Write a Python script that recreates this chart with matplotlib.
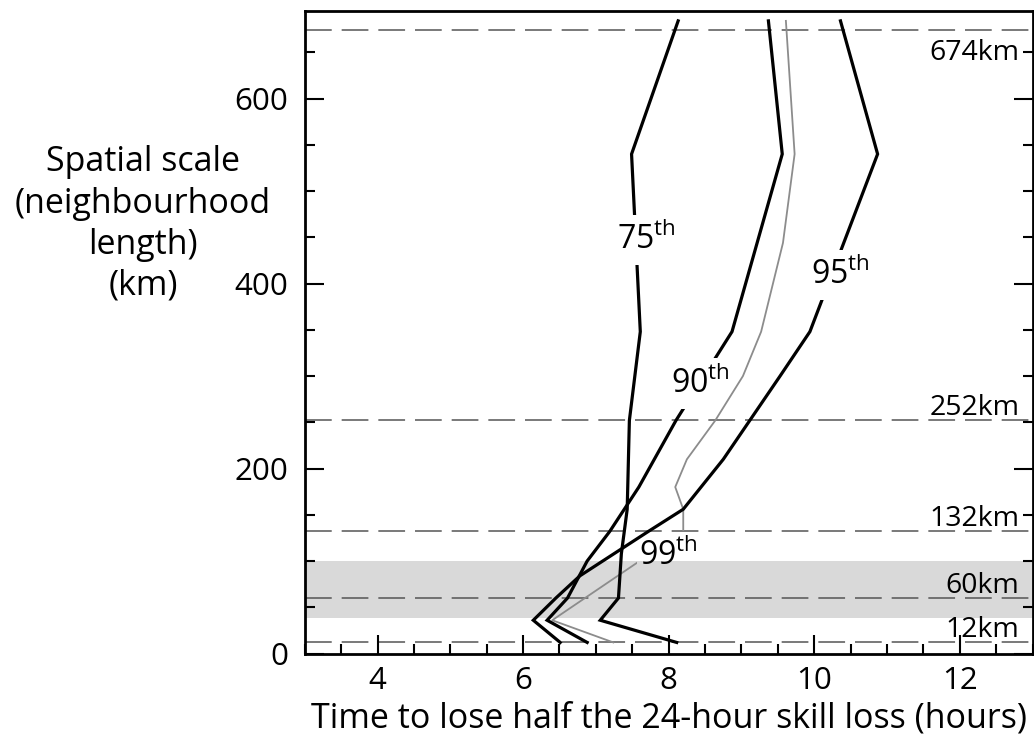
import matplotlib
matplotlib.use("Agg")
import matplotlib.pyplot as plt
from matplotlib.ticker import MultipleLocator
from matplotlib.path import Path

plt.rcParams['font.family'] = ['Open Sans', 'DejaVu Sans']
plt.rcParams['mathtext.fontset'] = 'custom'
plt.rcParams['mathtext.rm'] = 'Open Sans'
plt.rcParams['mathtext.it'] = 'Open Sans:italic'
plt.rcParams['mathtext.bf'] = 'Open Sans:bold'

# ---- data ----
scale_75 = [12, 36, 60, 108, 156, 252, 348, 540, 684]
hours_75 = [8.11, 7.06, 7.31, 7.35, 7.43, 7.46, 7.61, 7.49, 8.13]

scale_90 = [12, 36, 60, 100, 132, 180, 252, 348, 540, 684]
hours_90 = [6.88, 6.33, 6.61, 6.88, 7.19, 7.59, 8.10, 8.87, 9.56, 9.37]

scale_95 = [12, 36, 60, 84, 132, 156, 210, 300, 348, 540, 684]
hours_95 = [6.51, 6.14, 6.45, 6.78, 7.72, 8.20, 8.75, 9.53, 9.94, 10.87, 10.36]

scale_99 = [12, 36, 132, 156, 180, 210, 252, 300, 348, 444, 540, 684]
hours_99 = [7.24, 6.40, 8.20, 8.20, 8.09, 8.25, 8.64, 9.02, 9.27, 9.57, 9.73, 9.61]

ref_scales = [674, 252, 132, 60, 12]
ref_labels = ["674km", "252km", "132km", "60km", "12km"]
band = (38, 100)

curve_labels = ["75$^{\\mathrm{th}}$", "90$^{\\mathrm{th}}$", "95$^{\\mathrm{th}}$", "99$^{\\mathrm{th}}$"]
curve_label_pos = [(7.70, 447), (8.43, 292), (10.36, 409), (7.99, 105)]

ylabel_lines = ["Spatial scale", "(neighbourhood", "length)", "(km)"]
xlabel_text = "Time to lose half the 24-hour skill loss (hours)"

xticks = [4, 6, 8, 10, 12]
yticks = [0, 200, 400, 600]

# ---- figure ----
fig = plt.figure(figsize=(10.34, 7.43), dpi=100)
ax = fig.add_axes([0.2947, 0.1204, 0.7040, 0.8652])

ax.set_xlim(3, 13)
ax.set_ylim(0, 695)

ax.axhspan(band[0], band[1], color='#d9d9d9', lw=0, zorder=0)

for s in ref_scales:
    ax.axhline(s, color='#555555', lw=1.1, ls=(0, (17.5, 6.5)), zorder=1)

# curves in the same order as curve_labels: 75th, 90th, 95th, 99th
curves = []
for h, s in [(hours_75, scale_75), (hours_90, scale_90), (hours_95, scale_95)]:
    curves += ax.plot(h, s, color='black', lw=2.3, zorder=3, solid_joinstyle='miter')
curves += ax.plot(hours_99, scale_99, color='#8c8c8c', lw=1.3, zorder=2)

label_texts = []
for lab, (x, y) in zip(curve_labels, curve_label_pos):
    label_texts.append(ax.text(x, y, lab, fontsize=23, ha='center', va='center', zorder=5))

for s, lab in zip(ref_scales, ref_labels):
    if s > 600:
        ax.text(12.82, s - 32.5, lab, fontsize=20.5, ha='right', va='baseline', zorder=4)
    else:
        ax.text(12.82, s + 5.5, lab, fontsize=20.5, ha='right', va='baseline', zorder=4)

ax.xaxis.set_major_locator(MultipleLocator(2))
ax.xaxis.set_minor_locator(MultipleLocator(0.5))
ax.set_xticks(xticks)
ax.yaxis.set_major_locator(MultipleLocator(200))
ax.yaxis.set_minor_locator(MultipleLocator(50))
ax.set_yticks(yticks)

ax.tick_params(which='both', direction='in', top=False, right=True, bottom=True, left=True,
               width=1.5, color='black')
ax.tick_params(which='major', length=14, labelsize=22.5, pad=12)
ax.tick_params(which='minor', length=7)
ax.tick_params(axis='x', which='major', pad=9)

for sp in ax.spines.values():
    sp.set_linewidth(2.0)

ax.set_xlabel(xlabel_text, fontsize=24.5, labelpad=4)

# y-axis title: four centred lines to the left of the axis
baselines_px = [171, 213, 254, 295]
for txt, by in zip(ylabel_lines, baselines_px):
    fig.text(143 / 1034, 1 - by / 743, txt, fontsize=24.5, ha='center', va='baseline')

# cut a gap in each curve where its own label sits (no white box)
fig.canvas.draw()
renderer = fig.canvas.get_renderer()
inv = ax.transData.inverted()
for ln, t in zip(curves, label_texts):
    bb = t.get_window_extent(renderer).padded(2)
    (x0, y0), (x1, y1) = inv.transform([(bb.x0, bb.y0 - 6), (bb.x1, bb.y1 + 6)])
    verts = [(-100, -1e4), (100, -1e4), (100, 1e4), (-100, 1e4), (-100, -1e4),
             (x0, y0), (x0, y1), (x1, y1), (x1, y0), (x0, y0)]
    codes = [Path.MOVETO, Path.LINETO, Path.LINETO, Path.LINETO, Path.CLOSEPOLY] * 2
    ln.set_clip_path(Path(verts, codes), ax.transData)

fig.savefig("out.png", dpi=100)
